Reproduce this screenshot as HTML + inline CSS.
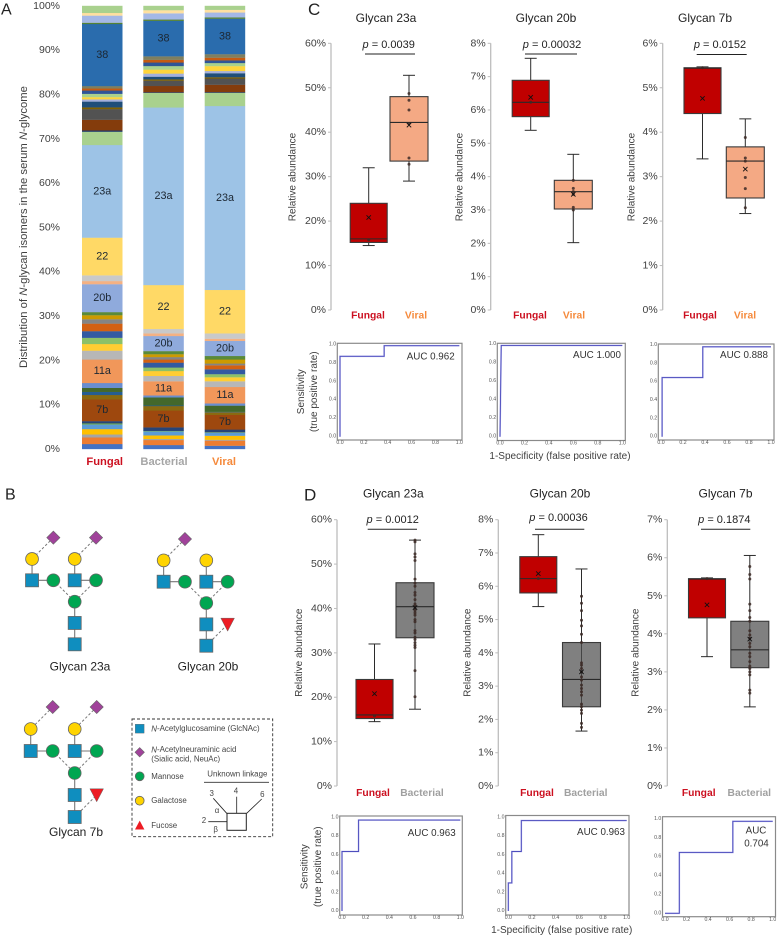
<!DOCTYPE html>
<html lang="en">
<head>
<meta charset="utf-8">
<title>Serum N-glycome isomer distribution and ROC analysis</title>
<style>
html,body{margin:0;padding:0;background:#fff;overflow:hidden;}
svg{display:block;font-family:"Liberation Sans",sans-serif;filter:blur(0.35px);}
</style>
</head>
<body>
<svg id="figure" xmlns="http://www.w3.org/2000/svg" width="777" height="937" viewBox="0 0 777 937"></svg>
<script>
/* ---------- Panel A: stacked bars (segment widths, bottom to top, in %) ---------- */
const stackCategories = ['Fungal', 'Bacterial', 'Viral'];
const stackTicks = [0, 10, 20, 30, 40, 50, 60, 70, 80, 90, 100];
const fungalValues = [1.13,1.5,0.67,1.2,1.06,0.24,0.5,4.9,1.0,0.7,0.9,1.1,5.3,2.0,1.5,1.4,1.5,1.7,1.0,0.9,0.7,6.3,0.7,1.3,8.5,20.9,3.0,0.3,2.4,2.4,0.4,1.3,0.5,0.5,0.75,0.75,0.45,0.55,14.0,0.3,1.6,0.6,1.6];
const bacterialValues = [0.9,1.13,0.25,0.8,0.92,0.1,0.8,3.8,1.0,0.15,1.8,0.45,3.2,1.2,1.1,0.8,1.1,0.7,0.55,0.65,0.7,3.4,0.6,1.0,9.9,40.07,3.3,0.15,1.4,1.2,0.3,0.6,0.7,0.9,0.8,0.8,0.6,0.8,8.0,0.3,1.4,0.7,0.98];
const viralValues = [0.75,1.15,0.2,0.9,0.7,0.1,0.6,3.3,0.6,0.1,1.4,0.5,3.7,1.3,0.9,0.7,1.1,0.9,0.4,0.9,0.8,3.4,0.5,1.2,9.8,41.5,3.0,0.15,1.65,1.4,0.3,0.9,0.5,1.1,0.7,0.6,0.6,0.8,8.0,0.3,1.1,0.6,0.9];
const segmentColors = ['#4472c4','#ed7d31','#a5a5a5','#ffc000','#5b9bd5','#70ad47','#264478','#9e480e','#8a6a10','#255e91','#43682b','#698ed0','#f1975a','#b7b7b7','#ffcd33','#8cc168','#335aa1','#d26012','#848484','#cc9a00','#5a8a39','#8faadc','#f4b183','#c9c9c9','#ffd966','#9dc3e6','#a9d18e','#1f3864','#843c0c','#525252','#7f6000','#1f4e79','#a4b0dc','#ffd43b','#a9d18e','#2f5597','#c55a11','#7f7f5f','#2a6cad','#548235','#a4b8e6','#ffe0a0','#a9d18e'];
const segmentLabels = {7:'7b',12:'11a',21:'20b',24:'22',25:'23a',38:'38'};

/* ---------- Panels C and D: box plots, stats are [min, q1, median, q3, max, mean] ---------- */
const fungal23aStats = [14.5,15.2,16,24,32,20.8];
const fungal23aPoints = [15.8];
const fungal20bStats = [5.39,5.8,6.23,6.89,7.55,6.38];
const fungal20bPoints = [6.23];
const fungal7bStats = [3.4,4.42,5.44,5.45,5.47,4.76];
const fungal7bPoints = [5.45];
const viral23aStats = [29,33.5,42.2,48,52.8,41.6];
const viral23aPoints = [48.7,47.2,45,41.9,34.2,32.8];
const viral20bStats = [2.02,3.03,3.55,3.89,4.67,3.47];
const viral20bPoints = [3.89,3.65,3.55,3.47,3.08,3.0];
const viral7bStats = [2.17,2.52,3.35,3.67,4.3,3.17];
const viral7bPoints = [3.88,3.42,3.35,2.98,2.73,2.3];
const bacterial23aStats = [17.3,33.4,40.4,45.8,55.4,40.2];
const bacterial23aPoints = [55.4,55,52.3,51.6,50.8,46.6,45.7,45,43.6,43,42,41,40.5,40,39.5,39,38.5,37.5,37,35,34.5,33.5,33,32.3,31.7,31.2,26,20.1];
const bacterial20bStats = [1.65,2.38,3.2,4.31,6.52,3.43];
const bacterial20bPoints = [5.7,5.49,5.27,4.98,4.81,4.56,4.31,3.7,3.63,3.53,3.43,3.28,3.18,3.03,2.93,2.83,2.73,2.46,2.38,2.28,2.18,1.88,1.76];
const bacterial7bStats = [2.08,3.11,3.58,4.33,6.06,3.86];
const bacterial7bPoints = [5.77,5.56,5.44,4.78,4.61,4.43,4.33,4.08,3.97,3.88,3.75,3.66,3.49,3.4,3.27,3.15,3.09,3.0,2.92,2.52,2.44];
const ticks60 = [0,10,20,30,40,50,60];
const ticks8 = [0,1,2,3,4,5,6,7,8];
const ticks6 = [0,1,2,3,4,5,6];
const ticks7 = [0,1,2,3,4,5,6,7];

/* ---------- ROC curves ---------- */
const rocTicks = [0,0.2,0.4,0.6,0.8,1.0];
const rocC1Fpr = [0,0,0.37,0.37,1];
const rocC1Tpr = [0,0.87,0.87,0.985,0.985];
const rocC2Fpr = [0,0.01,1];
const rocC2Tpr = [0,0.985,0.985];
const rocC3Fpr = [0.01,0.01,0.38,0.38,1];
const rocC3Tpr = [0,0.645,0.645,0.98,0.98];
const rocD1Fpr = [0,0,0.14,0.14,1];
const rocD1Tpr = [0,0.635,0.635,0.97,0.97];
const rocD2Fpr = [0,0,0.03,0.03,0.11,0.11,1];
const rocD2Tpr = [0,0.3,0.3,0.635,0.635,0.965,0.965];
const rocD3Fpr = [0,0.133,0.133,0.63,0.63,1];
const rocD3Tpr = [0,0,0.645,0.645,0.975,0.975];

const NS = 'http://www.w3.org/2000/svg';
const root = document.getElementById('figure');
const TXT = '#404040';

function add(parent, tag, attrs, name) {
  const el = document.createElementNS(NS, tag);
  
  
  for (const k in attrs) el.setAttribute(k, attrs[k]);
  parent.appendChild(el);
  return el;
}
function group(parent, name) { return add(parent, 'g', {}, name); }
function line(p, x1, y1, x2, y2, stroke, w, name, dash) {
  const a = {x1, y1, x2, y2, stroke, 'stroke-width': w};
  if (dash) a['stroke-dasharray'] = dash;
  return add(p, 'line', a, name);
}
function text(p, str, x, y, size, name, o) {
  o = o || {};
  const a = {x, y, 'font-size': size, fill: o.fill || TXT, 'text-anchor': o.anchor || 'middle', 'dominant-baseline': 'central'};
  if (o.weight) a['font-weight'] = o.weight;
  if (o.rotate) a.transform = 'rotate(-90 ' + x + ' ' + y + ')';
  const el = add(p, 'text', a, name);
  const parts = Array.isArray(str) ? str : [str];
  parts.forEach(function (part) {
    if (part.charAt(0) === '~') {
      const t = document.createElementNS(NS, 'tspan');
      t.setAttribute('font-style', 'italic');
      t.textContent = part.slice(1);
      el.appendChild(t);
    } else {
      el.appendChild(document.createTextNode(part));
    }
  });
  return el;
}

/* ---------- Panel letters ---------- */
const letters = group(root, 'panel-letters');
text(letters, 'A', 1, 10, 16, 'panel-letter-a', {anchor: 'start', fill: '#222'});
text(letters, 'B', 5, 495, 16, 'panel-letter-b', {anchor: 'start', fill: '#222'});
text(letters, 'C', 308, 9.5, 17, 'panel-letter-c', {anchor: 'start', fill: '#222'});
text(letters, 'D', 304, 495, 17, 'panel-letter-d', {anchor: 'start', fill: '#222'});

/* ---------- Panel A ---------- */
(function drawStack() {
  const g = group(root, 'stacked-bar-chart');
  const y0 = 449, yTop = 5.8;
  const yScale = function (v) { return y0 + (yTop - y0) * v / 100; };
  const axis = group(g, 'y-axis');
  stackTicks.forEach(function (t) {
    text(axis, t + '%', 60, yScale(t), 10.5, 'y-tick-label', {anchor: 'end'});
  });
  text(g, ['Distribution of ', '~N', '-glycan isomers in the serum ', '~N', '-glycome'], 24, 227, 11.3, 'y-axis-title', {rotate: true});
  const barX = [82, 143.3, 204.7];
  const barW = 40.5;
  const catCenter = [104.7, 164, 224];
  const catFill = ['#cc1020', '#a6a6a6', '#f58a3c'];
  const seriesValues = [fungalValues, bacterialValues, viralValues];
  stackCategories.forEach(function (cat, c) {
    const bar = group(g, 'bar-' + cat.toLowerCase());
    let cum = 0;
    seriesValues[c].forEach(function (v, i) {
      const yA = yScale(cum), yB = yScale(cum + v);
      add(bar, 'rect', {x: barX[c], y: yB, width: barW, height: yA - yB + 0.15, fill: segmentColors[i]}, 'bar-segment');
      if (segmentLabels[i]) {
        text(bar, segmentLabels[i], barX[c] + barW / 2, (yA + yB) / 2, 10.8, 'segment-label', {fill: '#1c2733'});
      }
      cum += v;
    });
    text(g, cat, catCenter[c], 462, 11.2, 'category-label', {weight: 'bold', fill: catFill[c]});
  });
})();

/* ---------- Panel B ---------- */
const GLC = '#0f8ebf', MAN = '#00a651', GAL = '#ffd400', NEU = '#a0429a', FUC = '#ed1c24', EDGE = '#666';
function square(p, x, y, s, name) { return add(p, 'rect', {x: x - s / 2, y: y - s / 2, width: s, height: s, fill: GLC, stroke: EDGE, 'stroke-width': 0.8}, name); }
function circle(p, x, y, r, fill, name) { return add(p, 'circle', {cx: x, cy: y, r, fill, stroke: EDGE, 'stroke-width': 0.8}, name); }
function diamond(p, x, y, r, name) { return add(p, 'polygon', {points: [x, y - r, x + r, y, x, y + r, x - r, y].join(','), fill: NEU, stroke: EDGE, 'stroke-width': 0.6}, name); }

function drawGlycan(name, ox, oy, u, diamonds, hasFuc) {
  const g = group(root, name);
  const X = function (c) { return ox + c * u; };
  const Y = function (r) { return oy - r * u; };
  const S = '#777', D = '#777';
  line(g, X(0), Y(0), X(0), Y(2), S, 1.1, 'bond');
  line(g, X(-2), Y(3), X(-2), Y(4), S, 1.1, 'bond');
  line(g, X(0), Y(3), X(0), Y(4), S, 1.1, 'bond');
  line(g, X(-2), Y(3), X(-1), Y(3), S, 1.1, 'bond');
  line(g, X(0), Y(3), X(1), Y(3), S, 1.1, 'bond');
  line(g, X(-1), Y(3), X(0), Y(2), D, 1, 'dashed-bond', '2.5 2');
  line(g, X(1), Y(3), X(0), Y(2), D, 1, 'dashed-bond', '2.5 2');
  diamonds.forEach(function (c) { line(g, X(c), Y(5), X(c - 1), Y(4), D, 1, 'dashed-bond', '2.5 2'); });
  if (hasFuc) line(g, X(0), Y(0), X(1), Y(1), D, 1, 'dashed-bond', '2.5 2');
  square(g, X(0), Y(0), 13, 'glcnac-square');
  square(g, X(0), Y(1), 13, 'glcnac-square');
  circle(g, X(0), Y(2), 6.4, MAN, 'mannose-circle');
  circle(g, X(-1), Y(3), 6.4, MAN, 'mannose-circle');
  circle(g, X(1), Y(3), 6.4, MAN, 'mannose-circle');
  square(g, X(-2), Y(3), 13, 'glcnac-square');
  square(g, X(0), Y(3), 13, 'glcnac-square');
  circle(g, X(-2), Y(4), 6.4, GAL, 'galactose-circle');
  circle(g, X(0), Y(4), 6.4, GAL, 'galactose-circle');
  diamonds.forEach(function (c) { diamond(g, X(c), Y(5), 6.6, 'neuac-diamond'); });
  if (hasFuc) {
    const fx = X(1), fy = Y(1);
    add(g, 'polygon', {points: [fx - 6.8, fy - 6.2, fx + 6.8, fy - 6.2, fx, fy + 6.8].join(','), fill: FUC, stroke: EDGE, 'stroke-width': 0.5}, 'fucose-triangle');
  }
}
drawGlycan('glycan-23a-structure', 74.7, 644.3, 21.33, [-1, 1], false);
drawGlycan('glycan-20b-structure', 206.3, 645.7, 21.33, [-1], true);
drawGlycan('glycan-7b-structure', 74.7, 817, 22, [-1, 1], true);
text(root, 'Glycan 23a', 80, 666.5, 12, 'glycan-23a-caption', {fill: '#222'});
text(root, 'Glycan 20b', 208, 666.5, 12, 'glycan-20b-caption', {fill: '#222'});
text(root, 'Glycan 7b', 76, 832, 12, 'glycan-7b-caption', {fill: '#222'});

(function drawLegend() {
  const g = group(root, 'glycan-legend');
  add(g, 'rect', {x: 132, y: 719, width: 140.7, height: 117.7, fill: 'none', stroke: '#333', 'stroke-width': 0.9, 'stroke-dasharray': '3 2'}, 'legend-border');
  const fs = 7.9, fill = '#444';
  add(g, 'rect', {x: 135.3, y: 724.3, width: 8.8, height: 8.8, fill: GLC, stroke: EDGE, 'stroke-width': 0.4}, 'legend-glcnac-swatch');
  text(g, ['~N', '-Acetylglucosamine (GlcNAc)'], 151.3, 728.7, fs, 'legend-glcnac-label', {anchor: 'start', fill});
  diamond(g, 139.7, 752.3, 4.7, 'legend-neuac-swatch');
  text(g, ['~N', '-Acetylneuraminic acid'], 151.3, 749.3, fs, 'legend-neuac-label', {anchor: 'start', fill});
  text(g, '(Sialic acid, NeuAc)', 151.3, 759, fs, 'legend-neuac-sublabel', {anchor: 'start', fill});
  circle(g, 139.7, 776.3, 4.4, MAN, 'legend-mannose-swatch');
  text(g, 'Mannose', 151.3, 776.3, fs, 'legend-mannose-label', {anchor: 'start', fill});
  circle(g, 139.7, 800.7, 4.4, GAL, 'legend-galactose-swatch');
  text(g, 'Galactose', 151.3, 800.7, fs, 'legend-galactose-label', {anchor: 'start', fill});
  add(g, 'polygon', {points: '135,829.5 144.4,829.5 139.7,820.6', fill: FUC}, 'legend-fucose-swatch');
  text(g, 'Fucose', 151.3, 825.3, fs, 'legend-fucose-label', {anchor: 'start', fill});
  text(g, 'Unknown linkage', 237.3, 774, fs, 'unknown-linkage-title', {fill});
  line(g, 204, 782.3, 269, 782.3, '#333', 0.9, 'linkage-rule');
  add(g, 'rect', {x: 227, y: 813.3, width: 19.3, height: 17, fill: '#fff', stroke: '#222', 'stroke-width': 1}, 'linkage-square');
  line(g, 226.7, 813.3, 213.3, 798.3, '#222', 0.8, 'linkage-3');
  line(g, 236.7, 813.3, 236.7, 796.7, '#222', 0.8, 'linkage-4');
  line(g, 246.7, 813.3, 261.7, 799, '#222', 0.8, 'linkage-6');
  line(g, 226.7, 821.7, 208.3, 821.7, '#222', 0.8, 'linkage-2');
  text(g, '3', 211.7, 793.3, fs, 'linkage-label-3', {fill});
  text(g, '4', 236, 791, fs, 'linkage-label-4', {fill});
  text(g, '6', 262.3, 794.3, fs, 'linkage-label-6', {fill});
  text(g, '2', 204, 820.7, fs, 'linkage-label-2', {fill});
  text(g, 'α', 217, 810.7, fs, 'linkage-alpha', {fill});
  text(g, 'β', 215.7, 829.3, fs, 'linkage-beta', {fill});
})();

/* ---------- Box plots ---------- */
const RED = '#c00000', PEACH = '#f4a984', GREY = '#808080';
const catRed = '#cc1020', catOrange = '#f58a3c', catGrey = '#a0a0a0';

function drawBoxPanel(cfg) {
  const g = group(root, cfg.name);
  const yMax = cfg.ticks[cfg.ticks.length - 1];
  const yScale = function (v) { return cfg.bottom + (cfg.top - cfg.bottom) * v / yMax; };
  text(g, cfg.title, cfg.titleX, cfg.titleY, 12, 'chart-title', {fill: '#222'});
  text(g, ['~p', ' = ' + cfg.p], cfg.pX, cfg.pY, 11, 'p-value', {fill: '#222'});
  line(g, cfg.lineX[0], cfg.lineY, cfg.lineX[1], cfg.lineY, '#222', 1, 'significance-line');
  const axis = group(g, 'y-axis');
  line(axis, cfg.axisX, cfg.top, cfg.axisX, cfg.bottom, '#bdbdbd', 1.3, 'y-axis-line');
  cfg.ticks.forEach(function (t) {
    line(axis, cfg.axisX - 3, yScale(t), cfg.axisX, yScale(t), '#bdbdbd', 1, 'y-tick');
    text(axis, t + '%', cfg.axisX - 5, yScale(t), 10.5, 'y-tick-label', {anchor: 'end'});
  });
  text(g, 'Relative abundance', cfg.yTitleX, cfg.yTitleY, 10, 'y-axis-title', {rotate: true});
  cfg.boxes.forEach(function (b) {
    const bg = group(g, 'box-' + b.cat.toLowerCase());
    const s = b.stats, cx = b.cx, hw = b.w / 2;
    line(bg, cx, yScale(s[4]), cx, yScale(s[0]), '#2b2b2b', 1, 'whisker');
    line(bg, cx - 6, yScale(s[4]), cx + 6, yScale(s[4]), '#2b2b2b', 1, 'whisker-cap-top');
    line(bg, cx - 6, yScale(s[0]), cx + 6, yScale(s[0]), '#2b2b2b', 1, 'whisker-cap-bottom');
    add(bg, 'rect', {x: cx - hw, y: yScale(s[3]), width: b.w, height: yScale(s[1]) - yScale(s[3]), fill: b.fill, stroke: '#3a3a3a', 'stroke-width': 1.1}, 'box-body');
    if (b.spine) line(bg, cx, yScale(s[3]), cx, yScale(s[1]), '#444', 1, 'point-spine');
    line(bg, cx - hw, yScale(s[2]), cx + hw, yScale(s[2]), '#2a2a2a', 1.1, 'median-line');
    b.points.forEach(function (v) {
      add(bg, 'circle', {cx, cy: yScale(v), r: 1.5, fill: '#3c2a26', 'fill-opacity': 0.85}, 'data-point');
    });
    const my = yScale(s[5]);
    line(bg, cx - 2.2, my - 2.2, cx + 2.2, my + 2.2, '#111', 0.9, 'mean-marker');
    line(bg, cx - 2.2, my + 2.2, cx + 2.2, my - 2.2, '#111', 0.9, 'mean-marker');
    text(g, b.cat, b.labelX, cfg.catY, 10.3, 'category-label', {weight: 'bold', fill: b.labelFill});
  });
}

const fungalBox = function (stats, points, cx, labelX) { return {cat: 'Fungal', stats, points, cx, w: 37, fill: RED, labelX, labelFill: catRed}; };
const viralBox = function (stats, points, cx, labelX) { return {cat: 'Viral', stats, points, cx, w: 38, fill: PEACH, labelX, labelFill: catOrange}; };
const bactBox = function (stats, points, cx, labelX) { return {cat: 'Bacterial', stats, points, cx, w: 38, fill: GREY, labelX, labelFill: catGrey, spine: true}; };

drawBoxPanel({name: 'boxplot-c-glycan-23a', title: 'Glycan 23a', titleX: 386, titleY: 18, p: '0.0039', pX: 388.7, pY: 45, lineX: [365, 415], lineY: 54, axisX: 331, top: 43.3, bottom: 310, ticks: ticks60, yTitleX: 293, yTitleY: 177, catY: 316,
  boxes: [fungalBox(fungal23aStats, fungal23aPoints, 368.7, 368), viralBox(viral23aStats, viral23aPoints, 409, 416)]});
drawBoxPanel({name: 'boxplot-c-glycan-20b', title: 'Glycan 20b', titleX: 546, titleY: 18, p: '0.00032', pX: 552, pY: 45, lineX: [525, 577], lineY: 54, axisX: 490.7, top: 43.3, bottom: 310, ticks: ticks8, yTitleX: 460, yTitleY: 177, catY: 316,
  boxes: [fungalBox(fungal20bStats, fungal20bPoints, 530.7, 530), viralBox(viral20bStats, viral20bPoints, 573.3, 574)]});
drawBoxPanel({name: 'boxplot-c-glycan-7b', title: 'Glycan 7b', titleX: 705, titleY: 18, p: '0.0152', pX: 720, pY: 45, lineX: [696.7, 746.7], lineY: 54.5, axisX: 662.7, top: 43.3, bottom: 310, ticks: ticks6, yTitleX: 632, yTitleY: 177, catY: 316,
  boxes: [fungalBox(fungal7bStats, fungal7bPoints, 702.5, 700), viralBox(viral7bStats, viral7bPoints, 745.3, 745)]});
drawBoxPanel({name: 'boxplot-d-glycan-23a', title: 'Glycan 23a', titleX: 393.3, titleY: 493.3, p: '0.0012', pX: 392.7, pY: 520, lineX: [367.7, 417], lineY: 529.3, axisX: 337, top: 519.7, bottom: 786, ticks: ticks60, yTitleX: 299.3, yTitleY: 652.7, catY: 793.3,
  boxes: [fungalBox(fungal23aStats, fungal23aPoints, 374.5, 373), bactBox(bacterial23aStats, bacterial23aPoints, 415, 422)]});
drawBoxPanel({name: 'boxplot-d-glycan-20b', title: 'Glycan 20b', titleX: 560, titleY: 493.3, p: '0.00036', pX: 558.5, pY: 518, lineX: [535, 584.3], lineY: 529.3, axisX: 498.3, top: 519.7, bottom: 786, ticks: ticks8, yTitleX: 468, yTitleY: 652.7, catY: 793.3,
  boxes: [fungalBox(fungal20bStats, fungal20bPoints, 538.3, 537), bactBox(bacterial20bStats, bacterial20bPoints, 581.5, 585.7)]});
drawBoxPanel({name: 'boxplot-d-glycan-7b', title: 'Glycan 7b', titleX: 725.5, titleY: 493.3, p: '0.1874', pX: 724.3, pY: 520, lineX: [701, 750.3], lineY: 529.3, axisX: 667.3, top: 519.7, bottom: 786, ticks: ticks7, yTitleX: 636, yTitleY: 652.7, catY: 793.3,
  boxes: [fungalBox(fungal7bStats, fungal7bPoints, 707, 698.7), bactBox(bacterial7bStats, bacterial7bPoints, 749.8, 749.3)]});

/* ---------- ROC curves ---------- */
function drawRoc(cfg) {
  const g = group(root, cfg.name);
  const xS = function (v) { return cfg.x0 + (cfg.x1 - cfg.x0) * v; };
  const yS = function (v) { return cfg.y0 + (cfg.y1 - cfg.y0) * v; };
  add(g, 'rect', {x: cfg.fx0, y: cfg.fy0, width: cfg.fx1 - cfg.fx0, height: cfg.fy1 - cfg.fy0, fill: '#fff', stroke: '#8a8a8a', 'stroke-width': 1.2}, 'roc-frame');
  rocTicks.forEach(function (t) {
    text(g, t.toFixed(1), xS(t), cfg.fy1 + 3.2, 5.2, 'x-tick-label', {fill: '#555'});
    text(g, t.toFixed(1), cfg.fx0 - 1.2, yS(t), 5.2, 'y-tick-label', {anchor: 'end', fill: '#555'});
  });
  const pts = cfg.fpr.map(function (f, i) { return xS(f) + ',' + yS(cfg.tpr[i]); }).join(' ');
  add(g, 'polyline', {points: pts, fill: 'none', stroke: '#b4b4ec', 'stroke-width': 1.6}, 'roc-curve-halo');
  add(g, 'polyline', {points: pts, fill: 'none', stroke: '#4d4dbd', 'stroke-width': 0.9}, 'roc-curve');
  cfg.auc.forEach(function (a) {
    text(g, a[0], a[1], a[2], 9.8, 'auc-label', {fill: '#333'});
  });
}
drawRoc({name: 'roc-c-glycan-23a', fx0: 337.3, fx1: 462, fy0: 343.3, fy1: 440, x0: 340, x1: 459.3, y0: 436.7, y1: 344.3, fpr: rocC1Fpr, tpr: rocC1Tpr, auc: [['AUC 0.962', 430.7, 357]]});
drawRoc({name: 'roc-c-glycan-20b', fx0: 497.3, fx1: 625.3, fy0: 343.3, fy1: 440.5, x0: 500, x1: 622.3, y0: 436.7, y1: 344, fpr: rocC2Fpr, tpr: rocC2Tpr, auc: [['AUC 1.000', 597, 355.7]]});
drawRoc({name: 'roc-c-glycan-7b', fx0: 658.3, fx1: 774, fy0: 344, fy1: 440, x0: 661, x1: 771, y0: 436.7, y1: 345, fpr: rocC3Fpr, tpr: rocC3Tpr, auc: [['AUC 0.888', 744, 355.7]]});
drawRoc({name: 'roc-d-glycan-23a', fx0: 339.7, fx1: 462.3, fy0: 816, fy1: 915, x0: 342, x1: 460.3, y0: 911, y1: 817.3, fpr: rocD1Fpr, tpr: rocD1Tpr, auc: [['AUC 0.963', 431.7, 833.3]]});
drawRoc({name: 'roc-d-glycan-20b', fx0: 505.7, fx1: 629, fy0: 815.5, fy1: 915, x0: 508.3, x1: 626.7, y0: 911, y1: 817.3, fpr: rocD2Fpr, tpr: rocD2Tpr, auc: [['AUC 0.963', 601, 832.7]]});
drawRoc({name: 'roc-d-glycan-7b', fx0: 662.5, fx1: 775.5, fy0: 816.7, fy1: 916.7, x0: 665, x1: 772.7, y0: 913.3, y1: 819, fpr: rocD3Fpr, tpr: rocD3Tpr, auc: [['AUC', 756, 831], ['0.704', 756.5, 844]]});

const rocTitles = group(root, 'roc-axis-titles');
text(rocTitles, 'Sensitivity', 301.7, 391.7, 10, 'roc-c-y-title', {rotate: true});
text(rocTitles, '(true positive rate)', 314.3, 391.7, 10, 'roc-c-y-subtitle', {rotate: true});
text(rocTitles, '1-Specificity (false positive rate)', 560, 456.7, 10, 'roc-c-x-title');
text(rocTitles, 'Sensitivity', 305, 866.7, 10, 'roc-d-y-title', {rotate: true});
text(rocTitles, '(true positive rate)', 318.3, 866.7, 10, 'roc-d-y-subtitle', {rotate: true});
text(rocTitles, '1-Specificity (false positive rate)', 561.7, 930.7, 10, 'roc-d-x-title');
</script>
</body>
</html>
